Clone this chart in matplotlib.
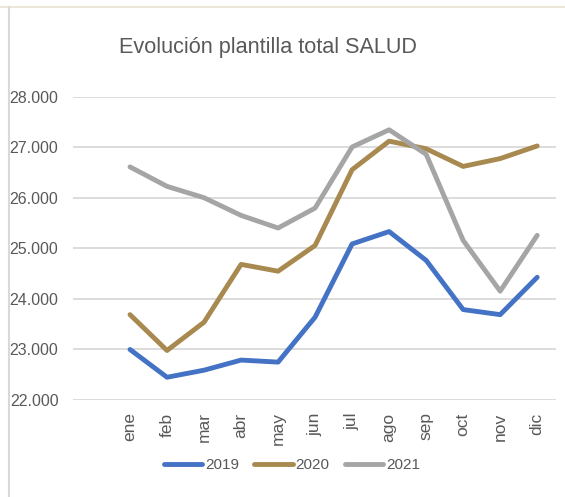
import matplotlib.pyplot as plt
from matplotlib.lines import Line2D
from matplotlib.ticker import FuncFormatter

meses = ["ene", "feb", "mar", "abr", "may", "jun", "jul", "ago", "sep", "oct", "nov", "dic"]
s2019 = [23000, 22450, 22590, 22790, 22750, 23640, 25090, 25335, 24765, 23790, 23690, 24430]
s2020 = [23690, 22980, 23540, 24685, 24550, 25060, 26560, 27125, 26975, 26625, 26780, 27030]
s2021 = [26615, 26230, 26005, 25655, 25405, 25800, 27010, 27350, 26865, 25160, 24155, 25260]
anios = ["2019", "2020", "2021"]
colores = ["#4472C4", "#A8894F", "#A5A5A5"]

plt.rcParams['font.family'] = ['Liberation Sans', 'DejaVu Sans']

fig = plt.figure(figsize=(5.65, 4.97), dpi=100)
ax = fig.add_axes([0.1292, 0.1952, 0.855, 0.6097])

x = list(range(len(meses)))
for serie, nombre, c in zip([s2019, s2020, s2021], anios, colores):
    ax.plot(x, serie, color=c, lw=3.5, label=nombre, solid_joinstyle='round', solid_capstyle='round')

ax.set_ylim(22000, 28000)
ax.set_xlim(-1.54, 11.51)
ax.set_yticks(range(22000, 28001, 1000))
ax.yaxis.set_major_formatter(FuncFormatter(lambda v, p: f"{int(v):,}".replace(",", ".")))
ax.set_xticks(x)
ax.set_xticklabels(meses, rotation=90, va='top')
ax.grid(axis='y', color='#D9D9D9', lw=1.3)
ax.set_axisbelow(True)
for s in ax.spines.values():
    s.set_visible(False)
ax.tick_params(axis='both', length=0, colors='#595959')
ax.tick_params(axis='y', pad=10.5, labelsize=11.5)
ax.tick_params(axis='x', pad=9, labelsize=12.5)

fig.text(0.474, 0.905, "Evolución plantilla total SALUD", ha='center', va='center',
         fontsize=15.6, color='#595959')

fig.legend(loc='center', bbox_to_anchor=(0.517, 0.064), ncol=3, frameon=False,
           fontsize=11, handlelength=2.5, handletextpad=0.2, columnspacing=1.0,
           labelcolor='#595959')

# marco de la captura
fig.add_artist(Line2D([0, 1], [1 - 7 / 497, 1 - 7 / 497], color='#ECE7D9', lw=1.5))
fig.add_artist(Line2D([8.5 / 565, 8.5 / 565], [0, 1 - 7 / 497], color='#D9D9D9', lw=1.5))

fig.savefig("out.png", dpi=100)
